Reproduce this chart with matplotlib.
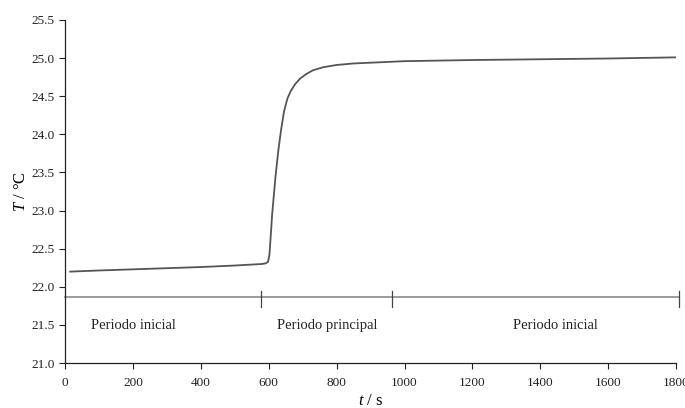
import matplotlib.pyplot as plt

# datos de la curva de temperatura
t = [15, 100, 200, 300, 400, 500, 580, 592, 598, 602, 606, 610, 615, 620,
     628, 636, 645, 655, 665, 678, 692, 710, 730, 760, 800, 850, 900, 1000,
     1200, 1400, 1600, 1800]
T = [22.20, 22.215, 22.23, 22.245, 22.26, 22.28, 22.30, 22.31, 22.33, 22.42,
     22.68, 22.95, 23.20, 23.45, 23.78, 24.05, 24.30, 24.47, 24.57, 24.66,
     24.73, 24.79, 24.84, 24.88, 24.91, 24.93, 24.94, 24.96, 24.975, 24.985,
     24.995, 25.01]

# periodos
periodo_lim = [577, 963, 1810]
periodo_txt = ['Periodo inicial', 'Periodo principal', 'Periodo inicial']
periodo_x = [200, 772, 1444]
y_linea = 21.87

xticks = [0, 200, 400, 600, 800, 1000, 1200, 1400, 1600, 1800]
yticks = [21.0, 21.5, 22.0, 22.5, 23.0, 23.5, 24.0, 24.5, 25.0, 25.5]

plt.rcParams['font.family'] = 'Liberation Serif'
plt.rcParams['mathtext.fontset'] = 'custom'
plt.rcParams['mathtext.rm'] = 'Liberation Serif'
plt.rcParams['mathtext.it'] = 'Liberation Serif:italic'

fig = plt.figure(figsize=(6.85, 4.08), dpi=100)
ax = fig.add_axes([0.095, 0.110, 0.892, 0.841])

ax.plot(t, T, color='#555555', lw=1.3)

# linea de periodos
ax.plot([0, periodo_lim[-1]], [y_linea, y_linea], color='#8a8a8a', lw=1.2, clip_on=False)
for xl in periodo_lim:
    ax.plot([xl, xl], [21.94, 21.73], color='#444444', lw=0.9, clip_on=False)
for xt, txt in zip(periodo_x, periodo_txt):
    ax.text(xt, 21.49, txt, ha='center', va='center', fontsize=10.5, color='#222222')

ax.set_xlim(0, 1800)
ax.set_ylim(21.0, 25.5)
ax.set_xticks(xticks)
ax.set_yticks(yticks)
ax.set_yticklabels([f'{v:.1f}' for v in yticks])
ax.tick_params(labelsize=9.5, length=4, width=0.8, colors='#222222')
ax.tick_params(axis='x', pad=6)

ax.spines['top'].set_visible(False)
ax.spines['right'].set_visible(False)
for s in ['left', 'bottom']:
    ax.spines[s].set_linewidth(0.9)
    ax.spines[s].set_color('#222222')

ax.set_xlabel('$t$ / s', fontsize=12, labelpad=3)
ax.set_ylabel('$T$ / °C', fontsize=12, labelpad=2)

fig.savefig('out.png', dpi=100)
